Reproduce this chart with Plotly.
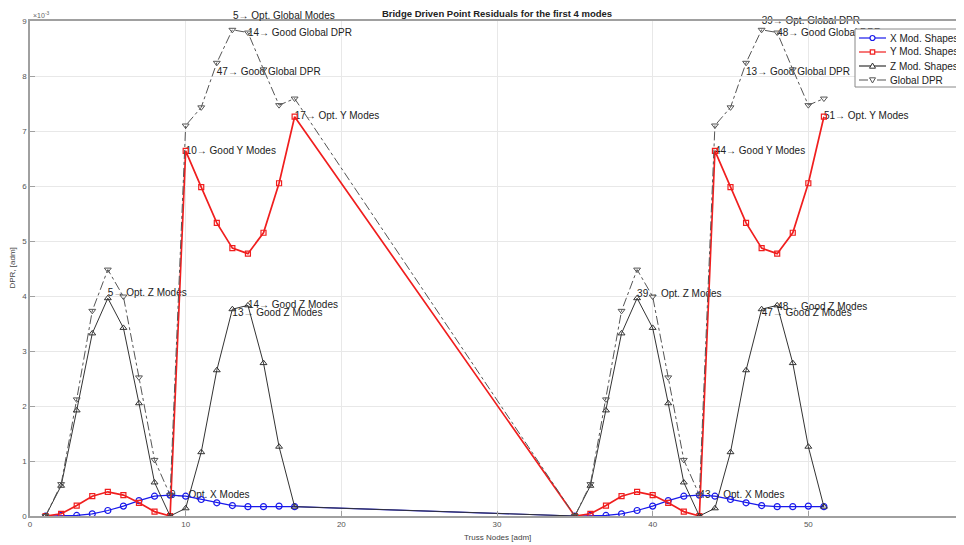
import plotly.graph_objects as go

# ---- data (DPR values in units of 1e-3) ----
nodes = [1, 2, 3, 4, 5, 6, 7, 8, 9, 10, 11, 12, 13, 14, 15, 16, 17,
         35, 36, 37, 38, 39, 40, 41, 42, 43, 44, 45, 46, 47, 48, 49, 50, 51]

x_modes = [0.00, 0.01, 0.01, 0.04, 0.10, 0.18, 0.28, 0.36, 0.38, 0.36, 0.30, 0.24, 0.19, 0.17, 0.17, 0.18, 0.17,
           0.00, 0.01, 0.01, 0.04, 0.10, 0.18, 0.28, 0.36, 0.38, 0.36, 0.30, 0.24, 0.19, 0.17, 0.17, 0.18, 0.17]

y_modes = [0.00, 0.04, 0.19, 0.36, 0.44, 0.38, 0.24, 0.08, 0.00, 6.64, 5.98, 5.33, 4.87, 4.77, 5.15, 6.05, 7.26,
           0.00, 0.04, 0.19, 0.36, 0.44, 0.38, 0.24, 0.08, 0.00, 6.64, 5.98, 5.33, 4.87, 4.77, 5.15, 6.05, 7.26]

z_modes = [0.00, 0.55, 1.92, 3.32, 3.96, 3.42, 2.05, 0.61, 0.00, 0.14, 1.16, 2.65, 3.76, 3.83, 2.78, 1.26, 0.17,
           0.00, 0.55, 1.92, 3.32, 3.96, 3.42, 2.05, 0.61, 0.00, 0.14, 1.16, 2.65, 3.76, 3.83, 2.78, 1.26, 0.17]

global_dpr = [0.00, 0.58, 2.12, 3.73, 4.48, 3.99, 2.52, 1.02, 0.38, 7.10, 7.43, 8.24, 8.84, 8.79, 8.12, 7.47, 7.59,
              0.00, 0.58, 2.12, 3.73, 4.48, 3.99, 2.52, 1.02, 0.38, 7.10, 7.43, 8.24, 8.84, 8.79, 8.12, 7.47, 7.59]

label_x = [14, 12, 17, 10, 5, 14, 13, 9,
           47, 48, 46, 51, 44, 39, 48, 47, 43]
label_y = [8.77, 8.07, 7.26, 6.62, 4.05, 3.82, 3.69, 0.37,
           9.00, 8.77, 8.07, 7.26, 6.62, 4.03, 3.80, 3.69, 0.37]
label_text = ["14\u2192 Good Global DPR", "47\u2192 Good Global DPR",
              "17\u2192 Opt. Y Modes", "10\u2192 Good Y Modes", "5\u2192 Opt. Z Modes",
              "14\u2192 Good Z Modes", "13\u2192 Good Z Modes", "9\u2192 Opt. X Modes",
              "39\u2192 Opt. Global DPR", "48\u2192 Good Global DPR", "13\u2192 Good Global DPR",
              "51\u2192 Opt. Y Modes", "44\u2192 Good Y Modes", "39\u2192 Opt. Z Modes",
              "48\u2192 Good Z Modes", "47\u2192 Good Z Modes", "43\u2192 Opt. X Modes"]

# label sitting just above the top of the axes (y = 9.10)
top_label_x = 13
top_label_y = 9.10
top_label_text = "5\u2192 Opt. Global Modes"

series_names = ["X Mod. Shapes", "Y Mod. Shapes", "Z Mod. Shapes", "Global DPR"]
series_colors = ["rgb(25,25,235)", "rgb(240,30,30)", "#333333", "#555555"]

FONT = "Liberation Sans, Arial, sans-serif"
Y_MAX = 9

# figure geometry (page body has an 8px margin)
FIG_W, FIG_H = 956, 537
L, R, T, B = 22, 0, 13, 29
W = FIG_W - L - R
H = FIG_H - T - B


def px(xo):
    return (xo - 8 - L) / W


def py(yo):
    return (T + H - (yo - 8)) / H


fig = go.Figure()

# text labels first so markers sit on top
fig.add_trace(go.Scatter(x=label_x, y=label_y, mode="text", text=label_text, cliponaxis=False,
                         textposition="middle right", showlegend=False, hoverinfo="skip",
                         textfont=dict(family=FONT, size=10, color="#222222")))

fig.add_trace(go.Scatter(x=nodes, y=x_modes, name=series_names[0], mode="lines+markers",
                         line=dict(color=series_colors[0], width=1.2),
                         marker=dict(symbol="circle-open", size=6, color=series_colors[0], line=dict(width=1.2))))
fig.add_trace(go.Scatter(x=nodes, y=y_modes, name=series_names[1], mode="lines+markers",
                         line=dict(color=series_colors[1], width=1.7),
                         marker=dict(symbol="square-open", size=5, color=series_colors[1], line=dict(width=1.2))))
fig.add_trace(go.Scatter(x=nodes, y=z_modes, name=series_names[2], mode="lines+markers",
                         line=dict(color=series_colors[2], width=1),
                         marker=dict(symbol="triangle-up-open", size=6, color=series_colors[2], line=dict(width=1))))
fig.add_trace(go.Scatter(x=nodes, y=global_dpr, name=series_names[3], mode="lines+markers",
                         line=dict(color=series_colors[3], width=1, dash="dashdot"),
                         marker=dict(symbol="triangle-down-open", size=6, color=series_colors[3], line=dict(width=1))))

axis_common = dict(showgrid=True, gridcolor="#e8e8e8", gridwidth=1, showline=True, linecolor="#a0a0a0",
                   linewidth=1.5, mirror=True, ticks="inside", ticklen=5, tickcolor="#a0a0a0",
                   tickfont=dict(family=FONT, size=8, color="#555555"), zeroline=False, automargin=False)

# ---- manual legend (compact, MATLAB style) ----
shapes = [dict(type="rect", xref="paper", yref="paper", x0=px(855), x1=px(959), y0=py(87), y1=py(29),
               fillcolor="white", line=dict(color="#888888", width=1), layer="above")]
annotations = []
rows = [38, 52, 66, 80]
dashes = ["solid", "solid", "solid", "dashdot"]
for i, yr in enumerate(rows):
    c = series_colors[i]
    shapes.append(dict(type="line", xref="paper", yref="paper", x0=px(859), x1=px(886), y0=py(yr), y1=py(yr),
                       line=dict(color=c, width=1.2, dash=dashes[i]), layer="above"))
    cx = 872.5
    if i == 0:
        shapes.append(dict(type="circle", xref="paper", yref="paper", x0=px(cx - 2.5), x1=px(cx + 2.5),
                           y0=py(yr + 2.5), y1=py(yr - 2.5), line=dict(color=c, width=1.2),
                           fillcolor="white", layer="above"))
    elif i == 1:
        shapes.append(dict(type="rect", xref="paper", yref="paper", x0=px(cx - 2.2), x1=px(cx + 2.2),
                           y0=py(yr + 2.2), y1=py(yr - 2.2), line=dict(color=c, width=1.2),
                           fillcolor="white", layer="above"))
    elif i == 2:
        path = "M {} {} L {} {} L {} {} Z".format(px(cx - 3), py(yr + 2.2), px(cx + 3), py(yr + 2.2), px(cx), py(yr - 3))
        shapes.append(dict(type="path", xref="paper", yref="paper", path=path, line=dict(color=c, width=1),
                           fillcolor="white", layer="above"))
    else:
        path = "M {} {} L {} {} L {} {} Z".format(px(cx - 3), py(yr - 2.2), px(cx + 3), py(yr - 2.2), px(cx), py(yr + 3))
        shapes.append(dict(type="path", xref="paper", yref="paper", path=path, line=dict(color=c, width=1),
                           fillcolor="white", layer="above"))
    annotations.append(dict(text=series_names[i], x=px(888), y=py(yr), xref="paper", yref="paper",
                            xanchor="left", yanchor="middle", showarrow=False,
                            font=dict(family=FONT, size=10, color="#222222")))

# label above the axes top: anchor at the top of the range and shift up by the excess
annotations.append(dict(text=top_label_text, x=top_label_x, xref="x", xanchor="left", xshift=-1,
                        y=min(top_label_y, Y_MAX), yref="y", yanchor="middle",
                        yshift=(top_label_y - Y_MAX) * H / Y_MAX, showarrow=False,
                        font=dict(family=FONT, size=10, color="#222222")))

# exponent label and axis titles
annotations.append(dict(text="\u00d710<sup>-3</sup>", x=0, xref="paper", xanchor="left", xshift=1,
                        y=1, yref="paper", yanchor="bottom", yshift=0, showarrow=False,
                        font=dict(family=FONT, size=7, color="#666666")))
annotations.append(dict(text="DPR, [adm]", x=px(12), xref="paper", xanchor="center", y=0.5, yref="paper",
                        yanchor="middle", textangle=-90, showarrow=False,
                        font=dict(family=FONT, size=8, color="#444444")))
annotations.append(dict(text="Truss Nodes [adm]", x=px(497), xref="paper", xanchor="center", y=py(537),
                        yref="paper", yanchor="middle", showarrow=False,
                        font=dict(family=FONT, size=8, color="#444444")))

fig.update_layout(
    width=FIG_W, height=FIG_H,
    margin=dict(l=L, r=R, t=T, b=B, autoexpand=False),
    paper_bgcolor="white", plot_bgcolor="white",
    font=dict(family=FONT, color="#333333"),
    showlegend=False,
    title=dict(text="<b>Bridge Driven Point Residuals for the first 4 modes</b>",
               x=0.5, xref="paper", xanchor="center", y=1 - 6 / FIG_H, yref="container", yanchor="middle",
               font=dict(family=FONT, size=9.5, color="#222222")),
    xaxis=dict(range=[0, 60], dtick=10, tick0=0, **axis_common),
    yaxis=dict(range=[0, Y_MAX], dtick=1, tick0=0, **axis_common),
    shapes=shapes,
    annotations=annotations,
)

fig.write_html("out.html")
